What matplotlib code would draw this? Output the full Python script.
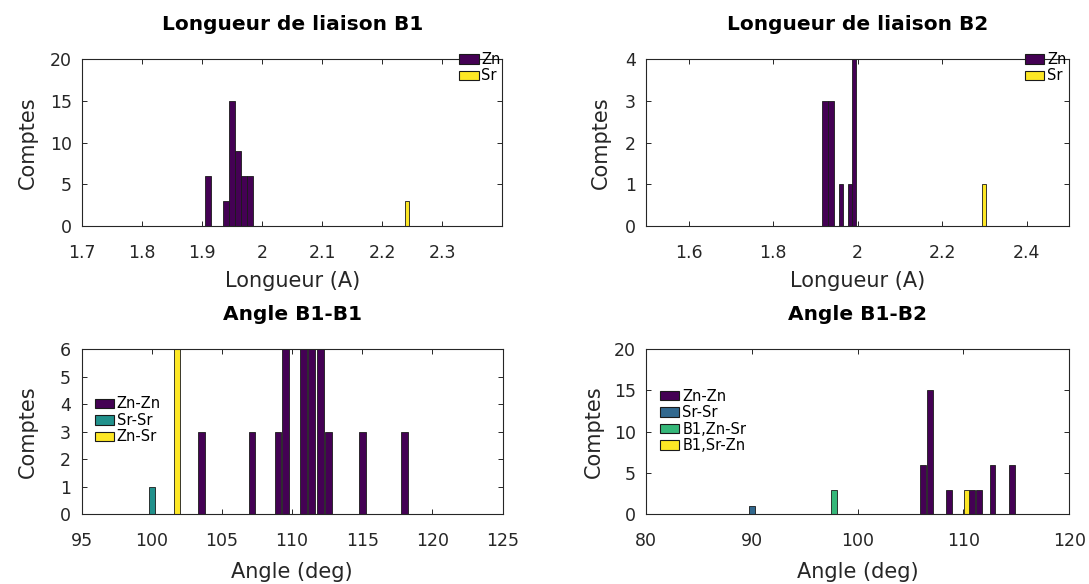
import matplotlib.pyplot as plt
from matplotlib.patches import Patch

# Longueur de liaison B1
b1_zn_len = [1.91, 1.94, 1.95, 1.96, 1.97, 1.98]
b1_zn_cnt = [6, 3, 15, 9, 6, 6]
b1_sr_len = [2.241]
b1_sr_cnt = [3]

# Longueur de liaison B2
b2_zn_len = [1.9227, 1.9376, 1.9606, 1.981, 1.991]
b2_zn_cnt = [3, 3, 1, 1, 4]
b2_sr_len = [2.2986]
b2_sr_cnt = [1]

# Angle B1-B1
a11_znzn = [103.55, 107.15, 109.0, 109.55, 110.8, 111.4, 112.0, 112.6, 115.0, 118.0]
a11_znzn_cnt = [3, 3, 3, 6, 6, 6, 6, 3, 3, 3]
a11_srsr = [100.0]
a11_srsr_cnt = [1]
a11_znsr = [101.8]
a11_znsr_cnt = [6]

# Angle B1-B2
a12_znzn = [106.2, 106.8, 108.6, 110.85, 111.45, 112.75, 114.55]
a12_znzn_cnt = [6, 15, 3, 3, 3, 6, 6]
a12_srsr = [90.0]
a12_srsr_cnt = [1]
a12_b1znsr = [97.75]
a12_b1znsr_cnt = [3]
a12_b1srzn = [110.3]
a12_b1srzn_cnt = [3]

PURPLE = '#440154'
TEAL = '#21918c'
BLUE = '#31688e'
GREEN = '#35b779'
YELLOW = '#fde725'
EDGE = '#1a1a1a'
AXC = '#262626'

plt.rcParams['font.family'] = 'DejaVu Sans'
plt.rcParams['axes.edgecolor'] = AXC
plt.rcParams['axes.linewidth'] = 0.8
plt.rcParams['xtick.color'] = AXC
plt.rcParams['ytick.color'] = AXC

fig = plt.figure(figsize=(10.89, 5.84), dpi=100)
W, H = 1089.0, 584.0

def make_ax(left, top, width, height):
    return fig.add_axes([left / W, 1 - (top + height) / H, width / W, height / H])

ax1 = make_ax(82.3, 59.3, 420.0, 166.7)
ax2 = make_ax(646.2, 59.3, 423.0, 166.7)
ax3 = make_ax(81.6, 349.0, 421.0, 165.3)
ax4 = make_ax(646.2, 349.0, 423.0, 165.3)

def bars(ax, x, h, w, c):
    ax.bar(x, h, width=w, color=c, edgecolor=EDGE, linewidth=0.6, zorder=2)

def style(ax, title, xlabel, xlim, xticks, ylim, yticks, ylab_x, xlab_y):
    ax.set_xlim(xlim)
    ax.set_ylim(ylim)
    ax.set_xticks(xticks)
    ax.set_xticklabels([('%g' % t) for t in xticks])
    ax.set_yticks(yticks)
    ax.tick_params(direction='in', top=True, right=True, length=3.5, width=0.7,
                   labelsize=12.5)
    ax.tick_params(axis='x', pad=13)
    ax.tick_params(axis='y', pad=7.5)
    ax.set_title(title, fontsize=14.5, fontweight='bold', pad=21, color='black')
    ax.set_xlabel(xlabel, fontsize=15, color=AXC)
    ax.set_ylabel('Comptes', fontsize=15, color=AXC)
    ax.xaxis.set_label_coords(0.5, xlab_y)
    ax.yaxis.set_label_coords(ylab_x, 0.5)
    for s in ax.spines.values():
        s.set_zorder(3)

def legend(ax, labels, colors, x, top):
    handles = [Patch(facecolor=c, edgecolor=EDGE, linewidth=0.8) for c in colors]
    ax.legend(handles, labels, loc='upper left', bbox_to_anchor=(x / W, 1 - top / H),
              bbox_transform=fig.transFigure, frameon=False, fontsize=10.5,
              borderpad=0, borderaxespad=0, handlelength=1.32, handleheight=0.62,
              handletextpad=0.2, labelspacing=0.1)

# B1
bars(ax1, b1_zn_len, b1_zn_cnt, 0.0095, PURPLE)
bars(ax1, b1_sr_len, b1_sr_cnt, 0.008, YELLOW)
style(ax1, 'Longueur de liaison B1', 'Longueur (A)', (1.7, 2.4),
      [1.7, 1.8, 1.9, 2.0, 2.1, 2.2, 2.3], (0, 20), [0, 5, 10, 15, 20], -0.105, -0.27)
legend(ax1, ['Zn', 'Sr'], [PURPLE, YELLOW], 459.3, 52)

# B2
bars(ax2, b2_zn_len, b2_zn_cnt, [0.0155, 0.014, 0.0095, 0.0095, 0.0095], PURPLE)
bars(ax2, b2_sr_len, b2_sr_cnt, 0.009, YELLOW)
style(ax2, 'Longueur de liaison B2', 'Longueur (A)', (1.5, 2.5),
      [1.6, 1.8, 2.0, 2.2, 2.4], (0, 4), [0, 1, 2, 3, 4], -0.084, -0.27)
legend(ax2, ['Zn', 'Sr'], [PURPLE, YELLOW], 1025, 52)

# Angle B1-B1
bars(ax3, a11_znzn, a11_znzn_cnt, 0.48, PURPLE)
bars(ax3, a11_srsr, a11_srsr_cnt, 0.45, TEAL)
bars(ax3, a11_znsr, a11_znsr_cnt, 0.48, YELLOW)
style(ax3, 'Angle B1-B1', 'Angle (deg)', (95, 125),
      [95, 100, 105, 110, 115, 120, 125], (0, 6), [0, 1, 2, 3, 4, 5, 6], -0.105, -0.29)
legend(ax3, ['Zn-Zn', 'Sr-Sr', 'Zn-Sr'], [PURPLE, TEAL, YELLOW], 94.7, 396.5)

# Angle B1-B2
bars(ax4, a12_znzn, a12_znzn_cnt, 0.56, PURPLE)
bars(ax4, a12_srsr, a12_srsr_cnt, 0.56, BLUE)
bars(ax4, a12_b1znsr, a12_b1znsr_cnt, 0.53, GREEN)
bars(ax4, a12_b1srzn, a12_b1srzn_cnt, 0.48, YELLOW)
style(ax4, 'Angle B1-B2', 'Angle (deg)', (80, 120),
      [80, 90, 100, 110, 120], (0, 20), [0, 5, 10, 15, 20], -0.10, -0.29)
legend(ax4, ['Zn-Zn', 'Sr-Sr', 'B1,Zn-Sr', 'B1,Sr-Zn'], [PURPLE, BLUE, GREEN, YELLOW],
       660, 388.7)

fig.savefig('out.png', dpi=100, facecolor='white')
